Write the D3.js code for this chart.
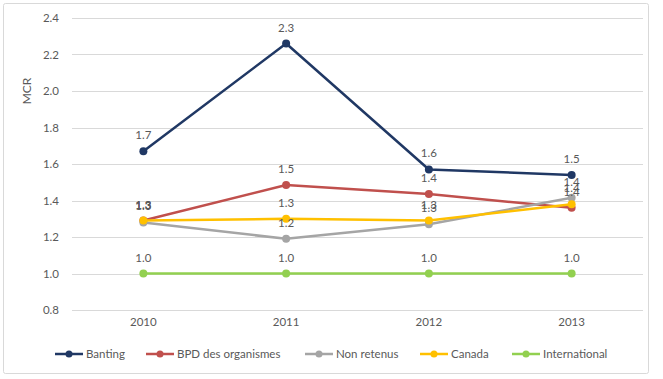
<!DOCTYPE html>
<html><head><meta charset="utf-8">
<script src="https://cdn.jsdelivr.net/npm/d3@7"></script>
<style>body{margin:0;background:#fff;} text{font-family:Lato,"Noto Sans",sans-serif;}</style>
</head><body>
<svg id="c" width="663" height="379"></svg>
<script>
const years = ["2010","2011","2012","2013"];
const seriesNames = ["Banting","BPD des organismes","Non retenus","Canada","International"];
const banting = [1.67, 2.26, 1.57, 1.54];
const bpd = [1.29, 1.485, 1.435, 1.36];
const nonRetenus = [1.28, 1.19, 1.27, 1.415];
const canada = [1.29, 1.30, 1.29, 1.38];
const international = [1.0, 1.0, 1.0, 1.0];
const yTicks = [0.8, 1.0, 1.2, 1.4, 1.6, 1.8, 2.0, 2.2, 2.4];
const colors = ["#203864","#c0504d","#a5a5a5","#ffc000","#92d050"];
const allValues = [banting, bpd, nonRetenus, canada, international];

const svg = d3.select("#c");
svg.append("rect").attr("x",3.5).attr("y",3.5).attr("width",645).attr("height",370)
  .attr("fill","#fff").attr("stroke","#d9d9d9").attr("stroke-width",1).attr("rx",2);

const x = d3.scaleBand().domain(years).range([72,643]);
const y = d3.scaleLinear().domain([0.8,2.4]).range([310,18]);

// grid
svg.append("g").selectAll("line").data(yTicks).join("line")
  .attr("x1",72).attr("x2",643).attr("y1",d=>Math.round(y(d))+0.5).attr("y2",d=>Math.round(y(d))+0.5)
  .attr("stroke","#d9d9d9").attr("stroke-width",1);

// y axis labels
const yAxis = d3.axisLeft(y).tickValues(yTicks).tickFormat(d3.format(".1f")).tickSize(0).tickPadding(0);
const gy = svg.append("g").attr("transform","translate(59,0)").call(yAxis);
gy.select(".domain").remove();
gy.selectAll("text").attr("fill","#595959").style("font-size","11.5px").style("font-family","Lato,'Noto Sans',sans-serif");

// x axis labels
const xAxis = d3.axisBottom(x).tickSize(0).tickPadding(0);
const gx = svg.append("g").attr("transform","translate(0,318)").call(xAxis);
gx.select(".domain").remove();
gx.selectAll("text").attr("fill","#595959").style("font-size","11.5px").style("font-family","Lato,'Noto Sans',sans-serif");

// y title
svg.append("text").attr("transform","translate(31,91) rotate(-90)").attr("text-anchor","middle")
  .attr("fill","#595959").style("font-size","12px").text("MCR");

const line = d3.line().x((d,i)=>x(years[i])+x.bandwidth()/2).y(d=>y(d));

allValues.forEach((vals,si)=>{
  const g = svg.append("g");
  g.append("path").datum(vals).attr("d",line).attr("fill","none")
    .attr("stroke",colors[si]).attr("stroke-width",2.5).attr("stroke-linejoin","round");
  g.selectAll("circle").data(vals).join("circle")
    .attr("cx",(d,i)=>x(years[i])+x.bandwidth()/2).attr("cy",d=>y(d)).attr("r",4)
    .attr("fill",colors[si]);
});
// data labels
allValues.forEach((vals,si)=>{
  svg.append("g").selectAll("text").data(vals).join("text")
    .attr("x",(d,i)=>x(years[i])+x.bandwidth()/2).attr("y",d=>y(d)-12)
    .attr("text-anchor","middle").attr("fill","#595959").style("font-size","11.5px")
    .text(d=>d3.format(".1f")(d));
});

// legend
const legX = [55,146,305,420,512];
const lg = svg.append("g");
seriesNames.forEach((n,i)=>{
  const g = lg.append("g").attr("transform",`translate(${legX[i]},354)`);
  g.append("line").attr("x1",0).attr("x2",28).attr("y1",0).attr("y2",0).attr("stroke",colors[i]).attr("stroke-width",2.5);
  g.append("circle").attr("cx",14).attr("cy",0).attr("r",3.5).attr("fill",colors[i]);
  g.append("text").attr("x",31).attr("y",4).attr("fill","#595959").style("font-size","11.5px").text(n);
});
</script>
</body></html>
